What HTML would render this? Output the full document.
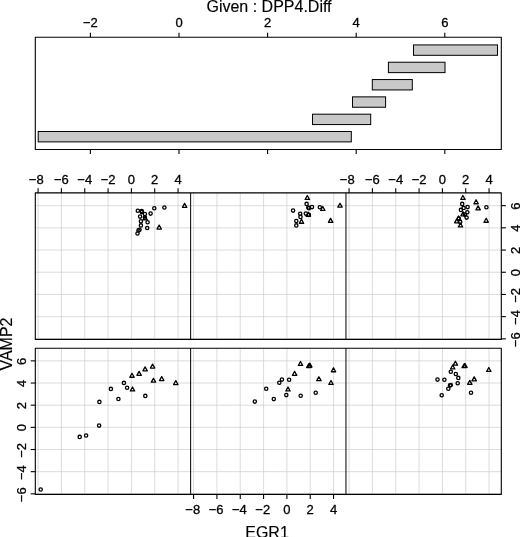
<!DOCTYPE html>
<html><head><meta charset="utf-8"><title>coplot</title>
<style>
html,body{margin:0;padding:0;background:#fff;}
svg{display:block;}
text{font-family:"Liberation Sans", Arial, Helvetica, sans-serif;fill:#000;stroke:#000;stroke-width:0.3px;}
.t12{font-size:13px;}
.t16{font-size:16px;stroke-width:0.15px;}
.fr{fill:none;stroke:#000;stroke-width:1.1;stroke-linejoin:round;}
.dv{fill:none;stroke:#000;stroke-width:1;}
.tk{stroke:#000;stroke-width:1.1;fill:none;}
.gr{stroke:#cdcdcd;stroke-width:0.7;fill:none;}
.bar{fill:#c8c8c8;stroke:#000;stroke-width:1;}
.pt{fill:none;stroke:#000;stroke-width:1.3;stroke-linejoin:round;}
</style></head><body>
<svg width="520" height="537" viewBox="0 0 520 537">
<rect x="0" y="0" width="520" height="537" fill="#fff"/>
<text class="t16" x="269" y="11.6" text-anchor="middle">Given : DPP4.Diff</text>
<rect class="fr" x="35.3" y="37.3" width="466.0" height="112.2"/>
<path class="tk" d="M90.40 37.3V32.70M90.40 149.5V154.10"/>
<text class="t12" x="90.40" y="27.2" text-anchor="middle">−2</text>
<path class="tk" d="M179.00 37.3V32.70M179.00 149.5V154.10"/>
<text class="t12" x="179.00" y="27.2" text-anchor="middle">0</text>
<path class="tk" d="M267.60 37.3V32.70M267.60 149.5V154.10"/>
<text class="t12" x="267.60" y="27.2" text-anchor="middle">2</text>
<path class="tk" d="M356.20 37.3V32.70M356.20 149.5V154.10"/>
<text class="t12" x="356.20" y="27.2" text-anchor="middle">4</text>
<path class="tk" d="M444.80 37.3V32.70M444.80 149.5V154.10"/>
<text class="t12" x="444.80" y="27.2" text-anchor="middle">6</text>
<rect class="bar" x="38.20" y="131.49" width="313.10" height="10.39"/>
<rect class="bar" x="312.50" y="114.18" width="58.20" height="10.39"/>
<rect class="bar" x="352.50" y="96.86" width="33.10" height="10.39"/>
<rect class="bar" x="372.30" y="79.55" width="40.00" height="10.39"/>
<rect class="bar" x="388.40" y="62.23" width="56.60" height="10.39"/>
<rect class="bar" x="413.50" y="44.92" width="84.00" height="10.39"/>
<path class="gr" d="M38.08 192.9V339.4"/>
<path class="gr" d="M61.41 192.9V339.4"/>
<path class="gr" d="M84.74 192.9V339.4"/>
<path class="gr" d="M108.07 192.9V339.4"/>
<path class="gr" d="M131.40 192.9V339.4"/>
<path class="gr" d="M154.73 192.9V339.4"/>
<path class="gr" d="M178.06 192.9V339.4"/>
<path class="gr" d="M193.58 192.9V339.4"/>
<path class="gr" d="M216.91 192.9V339.4"/>
<path class="gr" d="M240.24 192.9V339.4"/>
<path class="gr" d="M263.57 192.9V339.4"/>
<path class="gr" d="M286.90 192.9V339.4"/>
<path class="gr" d="M310.23 192.9V339.4"/>
<path class="gr" d="M333.56 192.9V339.4"/>
<path class="gr" d="M349.08 192.9V339.4"/>
<path class="gr" d="M372.41 192.9V339.4"/>
<path class="gr" d="M395.74 192.9V339.4"/>
<path class="gr" d="M419.07 192.9V339.4"/>
<path class="gr" d="M442.40 192.9V339.4"/>
<path class="gr" d="M465.73 192.9V339.4"/>
<path class="gr" d="M489.06 192.9V339.4"/>
<path class="gr" d="M35.3 338.85H501.30"/>
<path class="gr" d="M35.3 316.65H501.30"/>
<path class="gr" d="M35.3 294.45H501.30"/>
<path class="gr" d="M35.3 272.25H501.30"/>
<path class="gr" d="M35.3 250.05H501.30"/>
<path class="gr" d="M35.3 227.85H501.30"/>
<path class="gr" d="M35.3 205.65H501.30"/>
<path class="gr" d="M38.08 348.2V494.4"/>
<path class="gr" d="M61.41 348.2V494.4"/>
<path class="gr" d="M84.74 348.2V494.4"/>
<path class="gr" d="M108.07 348.2V494.4"/>
<path class="gr" d="M131.40 348.2V494.4"/>
<path class="gr" d="M154.73 348.2V494.4"/>
<path class="gr" d="M178.06 348.2V494.4"/>
<path class="gr" d="M193.58 348.2V494.4"/>
<path class="gr" d="M216.91 348.2V494.4"/>
<path class="gr" d="M240.24 348.2V494.4"/>
<path class="gr" d="M263.57 348.2V494.4"/>
<path class="gr" d="M286.90 348.2V494.4"/>
<path class="gr" d="M310.23 348.2V494.4"/>
<path class="gr" d="M333.56 348.2V494.4"/>
<path class="gr" d="M349.08 348.2V494.4"/>
<path class="gr" d="M372.41 348.2V494.4"/>
<path class="gr" d="M395.74 348.2V494.4"/>
<path class="gr" d="M419.07 348.2V494.4"/>
<path class="gr" d="M442.40 348.2V494.4"/>
<path class="gr" d="M465.73 348.2V494.4"/>
<path class="gr" d="M489.06 348.2V494.4"/>
<path class="gr" d="M35.3 493.83H501.30"/>
<path class="gr" d="M35.3 471.67H501.30"/>
<path class="gr" d="M35.3 449.51H501.30"/>
<path class="gr" d="M35.3 427.35H501.30"/>
<path class="gr" d="M35.3 405.19H501.30"/>
<path class="gr" d="M35.3 383.03H501.30"/>
<path class="gr" d="M35.3 360.87H501.30"/>
<g class="pt"><circle cx="137.8" cy="210.8" r="1.65"/><circle cx="141.8" cy="212.1" r="1.65"/><circle cx="141.7" cy="211.0" r="1.65"/><circle cx="144.9" cy="214.0" r="1.65"/><circle cx="150.6" cy="213.6" r="1.65"/><circle cx="154.3" cy="208.2" r="1.65"/><circle cx="164.4" cy="207.5" r="1.65"/><circle cx="140.1" cy="216.6" r="1.65"/><circle cx="144.9" cy="217.6" r="1.65"/><circle cx="140.9" cy="221.2" r="1.65"/><circle cx="147.6" cy="222.3" r="1.65"/><circle cx="140.9" cy="225.4" r="1.65"/><circle cx="147.2" cy="228.0" r="1.65"/><circle cx="139.5" cy="229.7" r="1.65"/><circle cx="138.5" cy="230.4" r="1.65"/><circle cx="137.5" cy="233.5" r="1.65"/></g>
<g class="pt"><circle cx="293.1" cy="210.6" r="1.65"/><circle cx="306.6" cy="203.9" r="1.65"/><circle cx="312.0" cy="207.1" r="1.65"/><circle cx="308.3" cy="207.5" r="1.65"/><circle cx="308.9" cy="208.2" r="1.65"/><circle cx="319.8" cy="207.2" r="1.65"/><circle cx="300.2" cy="213.8" r="1.65"/><circle cx="305.8" cy="213.6" r="1.65"/><circle cx="308.9" cy="214.9" r="1.65"/><circle cx="300.5" cy="216.9" r="1.65"/><circle cx="296.3" cy="221.0" r="1.65"/><circle cx="296.3" cy="225.4" r="1.65"/></g>
<g class="pt"><circle cx="462.2" cy="203.9" r="1.65"/><circle cx="467.6" cy="207.1" r="1.65"/><circle cx="486.4" cy="207.2" r="1.65"/><circle cx="463.6" cy="207.9" r="1.65"/><circle cx="460.9" cy="209.9" r="1.65"/><circle cx="467.3" cy="212.2" r="1.65"/><circle cx="464.9" cy="214.6" r="1.65"/><circle cx="466.6" cy="217.6" r="1.65"/><circle cx="458.8" cy="218.5" r="1.65"/><circle cx="460.2" cy="221.9" r="1.65"/></g>
<g class="pt"><circle cx="40.7" cy="489.5" r="1.65"/><circle cx="79.7" cy="436.9" r="1.65"/><circle cx="86.1" cy="435.5" r="1.65"/><circle cx="99.1" cy="425.6" r="1.65"/><circle cx="99.4" cy="401.9" r="1.65"/><circle cx="110.9" cy="388.9" r="1.65"/><circle cx="118.4" cy="399.0" r="1.65"/><circle cx="123.9" cy="382.9" r="1.65"/><circle cx="127.1" cy="387.8" r="1.65"/><circle cx="145.3" cy="395.9" r="1.65"/></g>
<g class="pt"><circle cx="254.8" cy="401.6" r="1.65"/><circle cx="266.2" cy="388.7" r="1.65"/><circle cx="273.8" cy="399.1" r="1.65"/><circle cx="279.3" cy="382.8" r="1.65"/><circle cx="281.9" cy="379.6" r="1.65"/><circle cx="289.1" cy="379.8" r="1.65"/><circle cx="286.3" cy="395.1" r="1.65"/><circle cx="300.7" cy="395.7" r="1.65"/><circle cx="315.7" cy="392.7" r="1.65"/></g>
<g class="pt"><circle cx="437.5" cy="379.6" r="1.65"/><circle cx="444.4" cy="379.8" r="1.65"/><circle cx="441.7" cy="395.2" r="1.65"/><circle cx="448.3" cy="388.8" r="1.65"/><circle cx="450.0" cy="385.4" r="1.65"/><circle cx="450.8" cy="385.0" r="1.65"/><circle cx="450.8" cy="371.7" r="1.65"/><circle cx="455.8" cy="374.0" r="1.65"/><circle cx="458.3" cy="377.9" r="1.65"/><circle cx="457.7" cy="383.3" r="1.65"/><circle cx="471.0" cy="392.7" r="1.65"/></g>
<path class="pt" d="M182.40 207.35L184.60 203.40L186.80 207.35ZM157.00 229.05L159.20 225.10L161.40 229.05ZM143.00 219.95L145.20 216.00L147.40 219.95Z"/>
<path class="pt" d="M305.10 199.45L307.30 195.50L309.50 199.45ZM337.80 207.15L340.00 203.20L342.20 207.15ZM328.40 222.35L330.60 218.40L332.80 222.35ZM299.30 223.25L301.50 219.30L303.70 223.25ZM320.60 210.45L322.80 206.50L325.00 210.45ZM306.10 216.25L308.30 212.30L310.50 216.25Z"/>
<path class="pt" d="M460.70 199.45L462.90 195.50L465.10 199.45ZM473.90 203.75L476.10 199.80L478.30 203.75ZM475.90 209.85L478.10 205.90L480.30 209.85ZM484.00 222.25L486.20 218.30L488.40 222.25ZM454.60 222.85L456.80 218.90L459.00 222.85ZM458.30 226.95L460.50 223.00L462.70 226.95ZM460.90 215.85L463.10 211.90L465.30 215.85ZM456.40 219.95L458.60 216.00L460.80 219.95Z"/>
<path class="pt" d="M129.80 377.25L132.00 373.30L134.20 377.25ZM136.90 375.35L139.10 371.40L141.30 375.35ZM142.90 370.85L145.10 366.90L147.30 370.85ZM150.40 368.05L152.60 364.10L154.80 368.05ZM151.30 382.15L153.50 378.20L155.70 382.15ZM159.50 380.55L161.70 376.60L163.90 380.55ZM173.60 384.55L175.80 380.60L178.00 384.55ZM130.30 390.95L132.50 387.00L134.70 390.95Z"/>
<path class="pt" d="M298.30 365.45L300.50 361.50L302.70 365.45ZM292.40 375.35L294.60 371.40L296.80 375.35ZM306.60 367.55L308.80 363.60L311.00 367.55ZM307.60 367.05L309.80 363.10L312.00 367.05ZM307.10 367.35L309.30 363.40L311.50 367.35ZM331.30 371.75L333.50 367.80L335.70 371.75ZM316.70 380.65L318.90 376.70L321.10 380.65ZM328.80 384.45L331.00 380.50L333.20 384.45ZM285.80 390.95L288.00 387.00L290.20 390.95Z"/>
<path class="pt" d="M453.20 365.15L455.40 361.20L457.60 365.15ZM450.50 368.95L452.70 365.00L454.90 368.95ZM462.00 367.65L464.20 363.70L466.40 367.65ZM462.80 367.45L465.00 363.50L467.20 367.45ZM462.40 367.55L464.60 363.60L466.80 367.55ZM486.60 371.45L488.80 367.50L491.00 371.45ZM472.00 380.85L474.20 376.90L476.40 380.85ZM467.60 384.35L469.80 380.40L472.00 384.35Z"/>
<rect class="fr" x="35.3" y="192.9" width="466.00" height="146.50"/>
<path class="dv" d="M190.63 192.9V339.4"/>
<path class="dv" d="M345.96 192.9V339.4"/>
<rect class="fr" x="35.3" y="348.2" width="466.00" height="146.20"/>
<path class="dv" d="M190.63 348.2V494.4"/>
<path class="dv" d="M345.96 348.2V494.4"/>
<path class="tk" d="M38.08 192.9V188.30"/>
<text class="t12" x="36.28" y="183.8" text-anchor="middle">−8</text>
<path class="tk" d="M61.41 192.9V188.30"/>
<text class="t12" x="61.41" y="183.8" text-anchor="middle">−6</text>
<path class="tk" d="M84.74 192.9V188.30"/>
<text class="t12" x="84.74" y="183.8" text-anchor="middle">−4</text>
<path class="tk" d="M108.07 192.9V188.30"/>
<text class="t12" x="108.07" y="183.8" text-anchor="middle">−2</text>
<path class="tk" d="M131.40 192.9V188.30"/>
<text class="t12" x="131.40" y="183.8" text-anchor="middle">0</text>
<path class="tk" d="M154.73 192.9V188.30"/>
<text class="t12" x="154.73" y="183.8" text-anchor="middle">2</text>
<path class="tk" d="M178.06 192.9V188.30"/>
<text class="t12" x="178.06" y="183.8" text-anchor="middle">4</text>
<path class="tk" d="M349.08 192.9V188.30"/>
<text class="t12" x="347.28" y="183.8" text-anchor="middle">−8</text>
<path class="tk" d="M372.41 192.9V188.30"/>
<text class="t12" x="372.41" y="183.8" text-anchor="middle">−6</text>
<path class="tk" d="M395.74 192.9V188.30"/>
<text class="t12" x="395.74" y="183.8" text-anchor="middle">−4</text>
<path class="tk" d="M419.07 192.9V188.30"/>
<text class="t12" x="419.07" y="183.8" text-anchor="middle">−2</text>
<path class="tk" d="M442.40 192.9V188.30"/>
<text class="t12" x="442.40" y="183.8" text-anchor="middle">0</text>
<path class="tk" d="M465.73 192.9V188.30"/>
<text class="t12" x="465.73" y="183.8" text-anchor="middle">2</text>
<path class="tk" d="M489.06 192.9V188.30"/>
<text class="t12" x="489.06" y="183.8" text-anchor="middle">4</text>
<path class="tk" d="M193.58 494.4V499.00"/>
<text class="t12" x="192.78" y="514.0" text-anchor="middle">−8</text>
<path class="tk" d="M216.91 494.4V499.00"/>
<text class="t12" x="216.11" y="514.0" text-anchor="middle">−6</text>
<path class="tk" d="M240.24 494.4V499.00"/>
<text class="t12" x="239.44" y="514.0" text-anchor="middle">−4</text>
<path class="tk" d="M263.57 494.4V499.00"/>
<text class="t12" x="262.77" y="514.0" text-anchor="middle">−2</text>
<path class="tk" d="M286.90 494.4V499.00"/>
<text class="t12" x="286.90" y="514.0" text-anchor="middle">0</text>
<path class="tk" d="M310.23 494.4V499.00"/>
<text class="t12" x="310.23" y="514.0" text-anchor="middle">2</text>
<path class="tk" d="M333.56 494.4V499.00"/>
<text class="t12" x="333.56" y="514.0" text-anchor="middle">4</text>
<path class="tk" d="M501.30 338.85H505.90"/>
<text class="t12" transform="translate(519.6 339.75) rotate(-90)" text-anchor="middle">−6</text>
<path class="tk" d="M501.30 316.65H505.90"/>
<text class="t12" transform="translate(519.6 317.55) rotate(-90)" text-anchor="middle">−4</text>
<path class="tk" d="M501.30 294.45H505.90"/>
<text class="t12" transform="translate(519.6 295.35) rotate(-90)" text-anchor="middle">−2</text>
<path class="tk" d="M501.30 272.25H505.90"/>
<text class="t12" transform="translate(519.6 272.65) rotate(-90)" text-anchor="middle">0</text>
<path class="tk" d="M501.30 250.05H505.90"/>
<text class="t12" transform="translate(519.6 250.45) rotate(-90)" text-anchor="middle">2</text>
<path class="tk" d="M501.30 227.85H505.90"/>
<text class="t12" transform="translate(519.6 228.25) rotate(-90)" text-anchor="middle">4</text>
<path class="tk" d="M501.30 205.65H505.90"/>
<text class="t12" transform="translate(519.6 206.05) rotate(-90)" text-anchor="middle">6</text>
<path class="tk" d="M35.3 493.83H30.70"/>
<text class="t12" transform="translate(25.6 494.73) rotate(-90)" text-anchor="middle">−6</text>
<path class="tk" d="M35.3 471.67H30.70"/>
<text class="t12" transform="translate(25.6 472.57) rotate(-90)" text-anchor="middle">−4</text>
<path class="tk" d="M35.3 449.51H30.70"/>
<text class="t12" transform="translate(25.6 450.41) rotate(-90)" text-anchor="middle">−2</text>
<path class="tk" d="M35.3 427.35H30.70"/>
<text class="t12" transform="translate(25.6 427.75) rotate(-90)" text-anchor="middle">0</text>
<path class="tk" d="M35.3 405.19H30.70"/>
<text class="t12" transform="translate(25.6 405.59) rotate(-90)" text-anchor="middle">2</text>
<path class="tk" d="M35.3 383.03H30.70"/>
<text class="t12" transform="translate(25.6 383.43) rotate(-90)" text-anchor="middle">4</text>
<path class="tk" d="M35.3 360.87H30.70"/>
<text class="t12" transform="translate(25.6 361.27) rotate(-90)" text-anchor="middle">6</text>
<text class="t16" x="267" y="538.0" text-anchor="middle">EGR1</text>
<text class="t16" transform="translate(12.2 344) rotate(-90)" text-anchor="middle">VAMP2</text>
</svg></body></html>
